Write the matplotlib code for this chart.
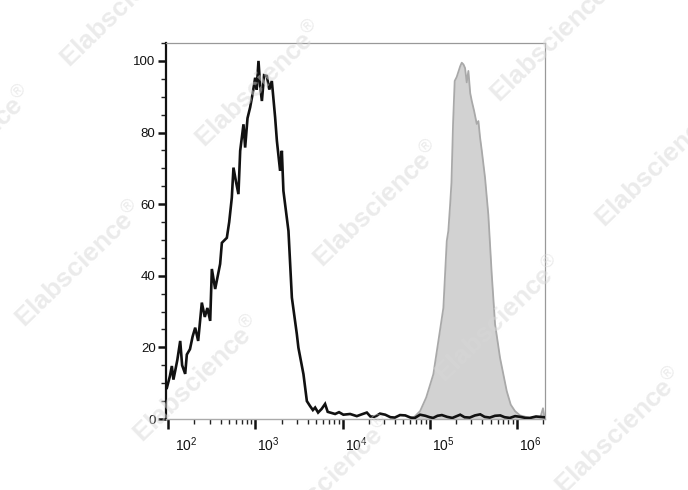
import matplotlib
matplotlib.use("Agg")
import matplotlib.pyplot as plt
import matplotlib.transforms as mtransforms
import numpy as np
from matplotlib.ticker import LogLocator, MultipleLocator, LogFormatterSciNotation

plt.rcParams['font.family'] = ['Liberation Sans', 'DejaVu Sans']
plt.rcParams['mathtext.fontset'] = 'custom'
plt.rcParams['mathtext.rm'] = 'Liberation Sans'
plt.rcParams['mathtext.it'] = 'Liberation Sans'

# Black (control) histogram: log10 intensity, % of max
black_log = [1.985, 2.020, 2.042, 2.060, 2.080, 2.105, 2.138, 2.160, 2.195, 2.214,
             2.250, 2.280, 2.310, 2.344, 2.386, 2.420, 2.450, 2.482, 2.501, 2.539,
             2.596, 2.616, 2.673, 2.700, 2.730, 2.749, 2.780, 2.806, 2.826, 2.864,
             2.883, 2.910, 2.940, 2.970, 2.998, 3.015, 3.036, 3.055, 3.075, 3.100,
             3.132, 3.160, 3.189, 3.227, 3.247, 3.284, 3.304, 3.322, 3.380, 3.419,
             3.476, 3.494, 3.552, 3.591, 3.628, 3.660, 3.686, 3.720, 3.760, 3.800,
             3.830, 3.858, 3.915, 3.960, 4.010, 4.087, 4.164, 4.220, 4.279, 4.32,
             4.37, 4.43, 4.49, 4.55, 4.60, 4.66, 4.72, 4.78, 4.83, 4.89,
             4.95, 5.00, 5.04, 5.09, 5.14, 5.20, 5.26, 5.31, 5.35, 5.40,
             5.46, 5.52, 5.58, 5.63, 5.69, 5.75, 5.81, 5.86, 5.92, 5.98,
             6.04, 6.10, 6.15, 6.22, 6.31]
black_y = [8.7, 12.0, 14.8, 11.0, 13.4, 16.5, 21.8, 15.0, 12.6, 18.0,
           19.5, 23.0, 25.5, 21.8, 32.5, 28.5, 31.0, 27.4, 41.9, 36.3,
           43.3, 49.2, 50.6, 55.0, 61.8, 70.2, 66.0, 62.8, 74.9, 82.3,
           75.8, 84.0, 87.0, 91.0, 95.3, 92.0, 100.0, 93.0, 88.8, 96.0,
           95.8, 92.0, 94.4, 84.2, 77.7, 69.3, 74.9, 63.7, 52.5, 33.9,
           23.7, 19.9, 12.5, 5.0, 3.6, 2.5, 3.2, 1.8, 2.8, 4.2,
           2.0, 1.8, 1.4, 1.9, 1.2, 1.4, 0.8, 1.3, 1.8, 0.7,
           0.6, 1.5, 1.2, 0.5, 0.4, 1.1, 1.0, 0.4, 0.3, 1.2,
           0.9, 0.5, 0.3, 0.9, 1.1, 0.6, 0.3, 0.8, 1.2, 0.5,
           0.4, 1.0, 1.3, 0.6, 0.4, 0.9, 1.0, 0.5, 0.3, 0.8,
           0.6, 0.3, 0.3, 0.7, 0.5]

# Gray (stained) histogram
gray_log = [4.80, 4.890, 4.960, 5.042, 5.100, 5.157, 5.196, 5.214, 5.235, 5.250,
            5.268, 5.287, 5.310, 5.330, 5.350, 5.368, 5.388, 5.406, 5.425, 5.444,
            5.465, 5.483, 5.510, 5.540, 5.559, 5.578, 5.598, 5.635, 5.673, 5.712,
            5.750, 5.807, 5.884, 5.930, 5.979, 6.037, 6.15, 6.27, 6.30, 6.32]
gray_y = [0.0, 2.2, 6.0, 12.5, 21.8, 31.0, 49.7, 52.5, 60.0, 66.0,
          82.3, 94.4, 95.5, 97.0, 98.5, 99.5, 99.0, 98.0, 94.0, 97.2,
          91.0, 88.8, 86.0, 82.4, 83.2, 78.6, 74.9, 67.4, 57.0, 40.4,
          26.5, 17.1, 7.8, 4.0, 2.2, 1.0, 0.3, 0.5, 3.0, 0.0]

xticks_log = [2, 3, 4, 5, 6]
yticks = [0, 20, 40, 60, 80, 100]

fig = plt.figure(figsize=(6.88, 4.90), dpi=100)
ax = fig.add_axes([166.0/688, 1-419/490, (545-166.0)/688, (419-43)/490])

gx = 10 ** np.array(gray_log)
ax.fill_between(gx, 0, gray_y, color='#d2d2d2', zorder=1, linewidth=0)
ax.plot(gx, gray_y, color='#a9a9a9', lw=1.3, zorder=2)
ax.plot(10 ** np.array(black_log), black_y, color='#111111', lw=1.9, zorder=3,
        solid_joinstyle='miter')

ax.set_xscale('log')
ax.set_xlim(10 ** 1.975, 10 ** 6.323)
ax.set_ylim(0, 105)

ax.set_xticks([10 ** v for v in xticks_log])
ax.xaxis.set_major_formatter(LogFormatterSciNotation())
ax.xaxis.set_minor_locator(LogLocator(base=10, subs=np.arange(2, 10), numticks=20))
ax.set_yticks(yticks)
ax.yaxis.set_minor_locator(MultipleLocator(5))

ax.tick_params(axis='both', which='major', direction='out', length=7.2, width=1.8,
               color='#111111', labelcolor='#111111')
ax.tick_params(axis='both', which='minor', direction='out', length=3.6, width=1.0,
               color='#222222')
ax.tick_params(axis='x', which='major', pad=4.5, labelsize=10)
ax.tick_params(axis='y', which='major', pad=2.0, length=5.5, labelsize=9.5)

# shift x tick labels to the right of their ticks, as in the reference
for i, lbl in enumerate(ax.xaxis.get_majorticklabels()):
    dx = 7 if i == 0 else 2
    lbl.set_horizontalalignment('left')
    lbl.set_transform(lbl.get_transform() +
                      mtransforms.ScaledTranslation(dx / 100, 0, fig.dpi_scale_trans))

ax.spines['left'].set_color('#111111')
ax.spines['left'].set_linewidth(1.6)
ax.spines['bottom'].set_color('#aaaaaa')
ax.spines['bottom'].set_linewidth(1.0)
for s in ['top', 'right']:
    ax.spines[s].set_color('#999999')
    ax.spines[s].set_linewidth(0.9)

# Watermark
wm_centers = [(125, 5), (555, 40), (260, 85), (-30, 150), (660, 165), (378, 205),
              (80, 265), (500, 320), (198, 380), (620, 432), (330, 480)]
for (cx, cy) in wm_centers:
    fig.text(cx / 688, 1 - cy / 490, "Elabscience$^{®}$", rotation=44,
             ha='center', va='center', fontsize=19, fontweight='bold',
             color='#d8d8d8', alpha=0.5, zorder=10, rotation_mode='anchor')

fig.savefig('out.png', dpi=100)
